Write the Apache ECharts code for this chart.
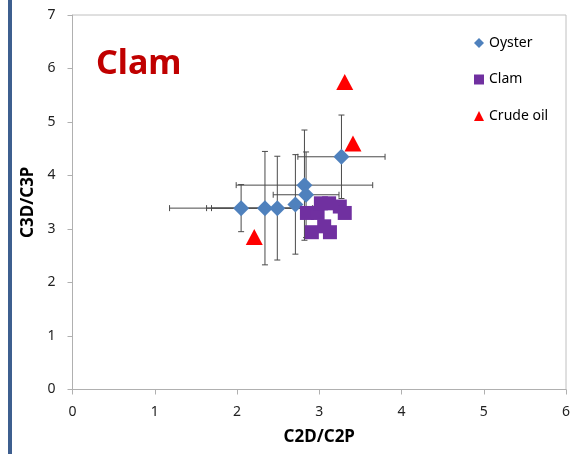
<!DOCTYPE html>
<html>
<head>
<meta charset="utf-8">
<script src="https://cdn.jsdelivr.net/npm/echarts@6/dist/echarts.min.js"></script>
<style>html,body{margin:0;padding:0;background:#fff}#c{width:570px;height:454px}</style>
</head>
<body>
<div id="c"></div>
<script>
// ---- data ----
const seriesNames = ['Oyster', 'Clam', 'Crude oil'];
const oysterX    = [2.05, 2.34, 2.49, 2.71, 2.82, 2.84, 3.27];
const oysterY    = [3.39, 3.39, 3.39, 3.46, 3.82, 3.64, 4.35];
const oysterXErr = [0.87, 0.71, 0.80, 0.00, 0.83, 0.40, 0.53];
const oysterYErr = [0.44, 1.06, 0.97, 0.93, 1.03, 0.80, 0.78];
const clamX = [2.85, 2.98, 3.02, 3.12, 3.25, 3.31, 2.91, 3.13, 3.06];
const clamY = [3.30, 3.30, 3.48, 3.48, 3.42, 3.30, 2.94, 2.94, 3.05];
const oilX = [3.31, 3.41, 2.21];
const oilY = [5.75, 4.60, 2.85];
const xTicks = [0, 1, 2, 3, 4, 5, 6];
const yTicks = [0, 1, 2, 3, 4, 5, 6, 7];

const chart = echarts.init(document.getElementById('c'), null, {renderer: 'canvas'});
const font = '"Noto Sans", "Open Sans", sans-serif';
const errData = oysterX.map((x, i) => [x, oysterY[i], oysterXErr[i], oysterYErr[i]]);

function renderErr(params, api) {
  const x = api.value(0), y = api.value(1), xe = api.value(2), ye = api.value(3);
  const cap = 3;
  const style = {stroke: '#4a4a4a', lineWidth: 1};
  const children = [];
  if (ye > 0) {
    const t = api.coord([x, y + ye]), b = api.coord([x, y - ye]);
    children.push({type: 'line', shape: {x1: t[0], y1: t[1], x2: b[0], y2: b[1]}, style});
    children.push({type: 'line', shape: {x1: t[0] - cap, y1: t[1], x2: t[0] + cap, y2: t[1]}, style});
    children.push({type: 'line', shape: {x1: b[0] - cap, y1: b[1], x2: b[0] + cap, y2: b[1]}, style});
  }
  if (xe > 0) {
    const l = api.coord([x - xe, y]), r = api.coord([x + xe, y]);
    children.push({type: 'line', shape: {x1: l[0], y1: l[1], x2: r[0], y2: r[1]}, style});
    children.push({type: 'line', shape: {x1: l[0], y1: l[1] - cap, x2: l[0], y2: l[1] + cap}, style});
    children.push({type: 'line', shape: {x1: r[0], y1: r[1] - cap, x2: r[0], y2: r[1] + cap}, style});
  }
  return {type: 'group', children};
}

chart.setOption({
  animation: false,
  backgroundColor: '#fff',
  textStyle: {fontFamily: font},
  graphic: [
    {type: 'rect', left: 8, top: 0, shape: {width: 4, height: 454}, style: {fill: '#3e5f8f'}, silent: true}
  ],
  title: {
    text: 'Clam', left: 91, top: 42,
    textStyle: {color: '#c00000', fontSize: 34, fontWeight: 'bold', fontFamily: font}
  },
  legend: {
    orient: 'vertical', left: 469, top: 31,
    itemWidth: 10, itemHeight: 10, itemGap: 22.5,
    data: [
      {name: 'Oyster', icon: 'diamond'},
      {name: 'Clam', icon: 'rect'},
      {name: 'Crude oil', icon: 'triangle'}
    ],
    textStyle: {color: '#000', fontSize: 14, lineHeight: 14, fontFamily: font}
  },
  grid: {left: 72.5, right: 4, top: 15, bottom: 64.5, show: true, borderColor: '#c0c0c0', borderWidth: 1,
         outerBoundsMode: 'none', containLabel: false},
  xAxis: {
    type: 'value', min: xTicks[0], max: xTicks[xTicks.length - 1], interval: 1,
    name: 'C2D/C2P', nameLocation: 'middle', nameGap: 39,
    nameTextStyle: {fontSize: 17, fontWeight: 'bold', color: '#000', fontFamily: font},
    axisLine: {show: true, lineStyle: {color: '#b0b0b0'}},
    axisTick: {show: true, length: 5, lineStyle: {color: '#b0b0b0'}},
    axisLabel: {color: '#222', fontSize: 14, margin: 16, fontFamily: font},
    splitLine: {show: false}
  },
  yAxis: {
    type: 'value', min: yTicks[0], max: yTicks[yTicks.length - 1], interval: 1,
    name: 'C3D/C3P', nameLocation: 'middle', nameGap: 29,
    nameTextStyle: {fontSize: 17, fontWeight: 'bold', color: '#000', fontFamily: font},
    axisLine: {show: true, lineStyle: {color: '#b0b0b0'}},
    axisTick: {show: true, length: 5, lineStyle: {color: '#b0b0b0'}},
    axisLabel: {color: '#222', fontSize: 14, margin: 17, fontFamily: font},
    splitLine: {show: false}
  },
  series: [
    {
      name: 'err', type: 'custom', renderItem: renderErr, data: errData, z: 1,
      encode: {x: 0, y: 1}, silent: true
    },
    {
      name: seriesNames[0], type: 'scatter', symbol: 'diamond', symbolSize: 16, z: 3,
      itemStyle: {color: '#4f81bd', opacity: 1},
      data: oysterX.map((x, i) => [x, oysterY[i]])
    },
    {
      name: seriesNames[1], type: 'scatter', symbol: 'rect', symbolSize: 14, z: 4,
      itemStyle: {color: '#7030a0', opacity: 1},
      data: clamX.map((x, i) => [x, clamY[i]])
    },
    {
      name: seriesNames[2], type: 'scatter', symbol: 'triangle', symbolSize: [17, 16], z: 5,
      itemStyle: {color: '#ff0000', opacity: 1},
      data: oilX.map((x, i) => [x, oilY[i]])
    }
  ]
});
</script>
</body>
</html>
